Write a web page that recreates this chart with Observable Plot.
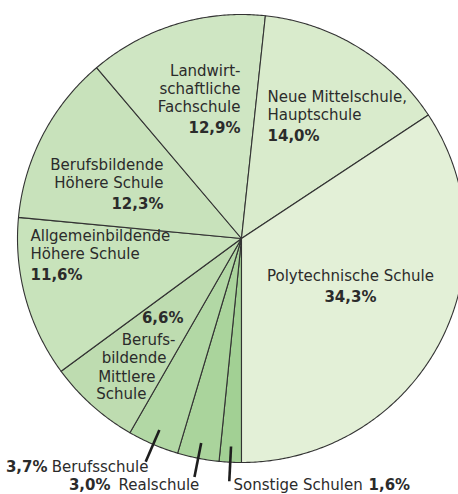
<!DOCTYPE html>
<html>
<head>
<meta charset="utf-8">
<script src="https://cdn.jsdelivr.net/npm/d3@7"></script>
<script src="https://cdn.jsdelivr.net/npm/@observablehq/plot@0.6"></script>
<style>
  html, body { margin: 0; padding: 0; background: #fff; }
  #chart svg { display: block; }
</style>
</head>
<body>
<div id="chart"></div>
<script>
// ---- data (clockwise from 6 o'clock) ----
const categories = [
  "Sonstige Schulen",
  "Realschule",
  "Berufsschule",
  "Berufsbildende Mittlere Schule",
  "Allgemeinbildende Höhere Schule",
  "Berufsbildende Höhere Schule",
  "Landwirtschaftliche Fachschule",
  "Neue Mittelschule, Hauptschule",
  "Polytechnische Schule"
];
const shares = [1.6, 3.0, 3.7, 6.6, 11.6, 12.3, 12.9, 14.0, 34.3];
const shareLabels = ["1,6%", "3,0%", "3,7%", "6,6%", "11,6%", "12,3%", "12,9%", "14,0%", "34,3%"];
const nameLines = [
  ["Sonstige Schulen"],
  ["Realschule"],
  ["Berufsschule"],
  ["Berufs-", "bildende", "Mittlere", "Schule"],
  ["Allgemeinbildende", "Höhere Schule"],
  ["Berufsbildende", "Höhere Schule"],
  ["Landwirt-", "schaftliche", "Fachschule"],
  ["Neue Mittelschule,", "Hauptschule"],
  ["Polytechnische Schule"]
];

// ---- styling ----
const colors = ["#a2d094", "#aad49c", "#b2d8a5", "#bedcb0", "#c8e3bb", "#c8e2bb", "#cfe6c3", "#d9ebcc", "#e3f0d7"];
const R = 224; // px per data unit (radius)
const FONT = "DejaVu Sans, sans-serif";
const LH = 18 / R;   // line height in data units
const PCT = 21 / R;  // gap before percent line

// ---- geometry ----
const arcs = d3.pie().sort(null).startAngle(Math.PI).endAngle(3 * Math.PI)(shares);
const polar = (a, r) => ({x: r * Math.sin(a), y: r * Math.cos(a)});
const deg = Math.PI / 180;

const slicePts = [];
arcs.forEach((a, i) => {
  slicePts.push({name: categories[i], x: 0, y: 0});
  const n = Math.max(4, Math.ceil((a.endAngle - a.startAngle) / (0.5 * deg)));
  for (let k = 0; k <= n; k++) {
    const t = a.startAngle + (a.endAngle - a.startAngle) * k / n;
    slicePts.push({name: categories[i], ...polar(t, 1)});
  }
});

// label block layout: anchor in polar (deg clockwise from top, radius fraction)
const blocks = [
  {i: 6, ang: -0.34, r: 0.746, anchor: "end"},
  {i: 7, ang: 10.45, r: 0.640, anchor: "start"},
  {i: 5, ang: -46.9, r: 0.477, anchor: "end"},
  {i: 4, ang: -89.46, r: 0.942, anchor: "start"},
  {i: 8, ang: 109.2, r: 0.515, anchor: "middle"}
];
const rows = [];
blocks.forEach(b => {
  const p = polar(b.ang * deg, b.r);
  const lines = nameLines[b.i];
  lines.forEach((t, k) => rows.push({text: t, x: p.x, y: p.y - k * LH, anchor: b.anchor, bold: false}));
  rows.push({text: shareLabels[b.i], x: p.x, y: p.y - (lines.length - 1) * LH - PCT, anchor: b.anchor, bold: true});
});
// Berufsbildende Mittlere Schule: percent first, lines stepping along the slice edge
{
  const p = polar(-144.06 * deg, 0.441);
  rows.push({text: shareLabels[3], x: p.x, y: p.y, anchor: "end", bold: true});
  const steps = [[-8, 22], [-17, 40], [-28, 59], [-37, 76]];
  nameLines[3].forEach((t, k) => rows.push({text: t, x: p.x + steps[k][0] / R, y: p.y - steps[k][1] / R, anchor: "end", bold: false}));
}
// small slices: leader lines radial from mid angle
const leaders = [0, 1, 2].map(i => {
  const m = (arcs[i].startAngle + arcs[i].endAngle) / 2;
  const a = polar(m, 0.93), b = polar(m, 1.085);
  return {x1: a.x, y1: a.y, x2: b.x, y2: b.y};
});
// outside labels
{
  const y1 = -229 / R, y2 = -247 / R;
  rows.push({text: nameLines[2][0], x: -93 / R, y: y1, anchor: "end", bold: false});
  rows.push({text: shareLabels[2], x: -194 / R, y: y1, anchor: "end", bold: true});
  rows.push({text: nameLines[1][0], x: -123 / R, y: y2, anchor: "start", bold: false});
  rows.push({text: shareLabels[1], x: -131 / R, y: y2, anchor: "end", bold: true});
  rows.push({text: nameLines[0][0], x: -8 / R, y: y2, anchor: "start", bold: false});
  rows.push({text: shareLabels[0], x: 127 / R, y: y2, anchor: "start", bold: true});
}

const textMarks = [];
for (const anchor of ["start", "middle", "end"]) {
  for (const bold of [false, true]) {
    const d = rows.filter(r => r.anchor === anchor && r.bold === bold);
    if (!d.length) continue;
    textMarks.push(Plot.text(d, {
      x: "x", y: "y", text: "text", textAnchor: anchor,
      fontSize: 15, fontWeight: bold ? "bold" : "normal", fill: "#2b2b2b"
    }));
  }
}

const chart = Plot.plot({
  width: 458,
  height: 494,
  margin: 0,
  style: {fontFamily: FONT, background: "#fff"},
  x: {domain: [-1, 1], range: [17, 465], axis: null},
  y: {domain: [-1, 1], range: [462, 14], axis: null},
  color: {domain: categories, range: colors},
  marks: [
    Plot.line(slicePts, {x: "x", y: "y", z: "name", fill: "name", stroke: "#333", strokeWidth: 1.1, curve: "linear-closed", strokeLinejoin: "round"}),
    Plot.link(leaders, {x1: "x1", y1: "y1", x2: "x2", y2: "y2", stroke: "#1e1e1e", strokeWidth: 2.6}),
    ...textMarks
  ]
});
document.getElementById("chart").appendChild(chart);
</script>
</body>
</html>
